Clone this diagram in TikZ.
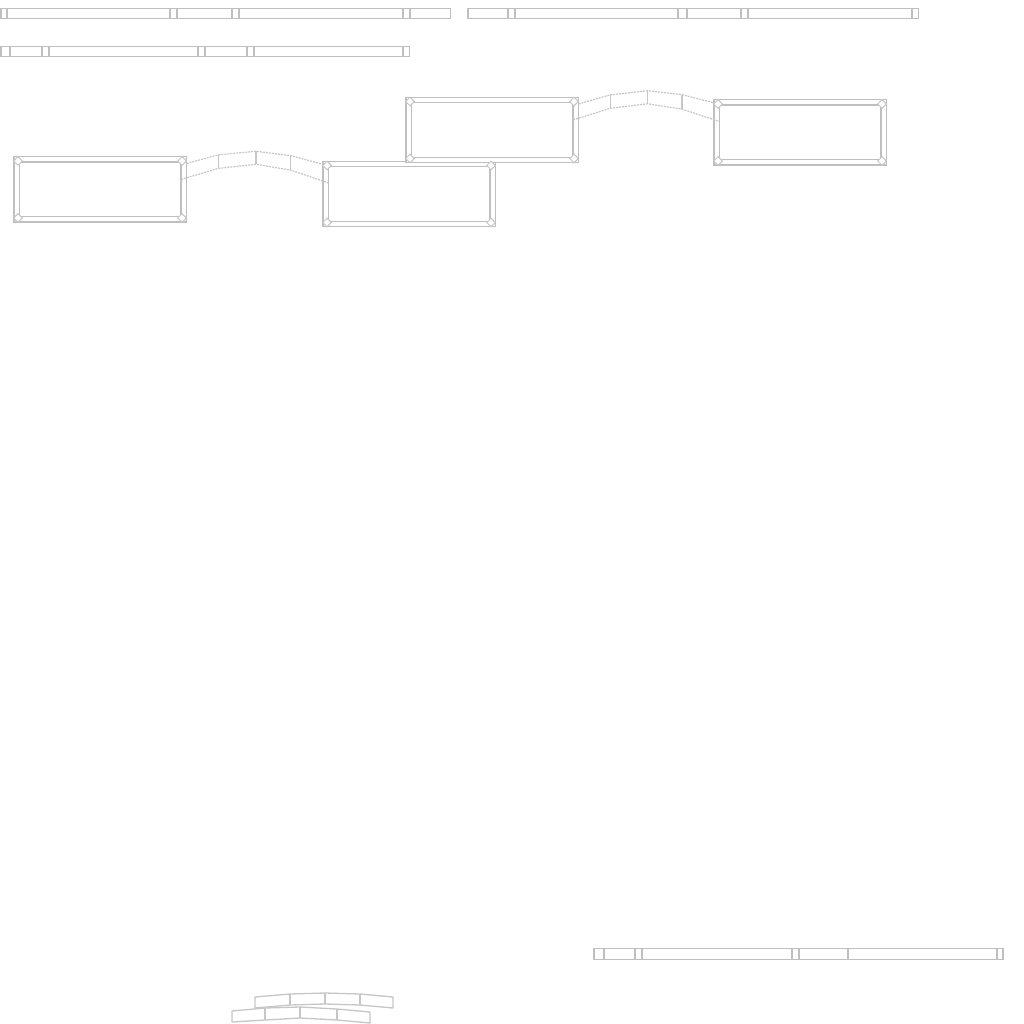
\documentclass[tikz,border=0pt]{standalone}
\usetikzlibrary{calc,shapes.geometric}
\newcommand\archlink[2]{%
  \coordinate (t0) at ($(#1.north east)+(3,4)$);
  \coordinate (t4) at ($(#2.north west)+(0,1)$);
  \coordinate (b0) at ($(#1.east)+(-2.5,-10)$);
  \coordinate (b4) at ($(#2.west)+(3,-11)$);
  \coordinate (t1) at ($(t0)!0.23!(t4)+(0,-9)$);
  \coordinate (t2) at ($(t0)!0.5!(t4)+(0,-13)$);
  \coordinate (t3) at ($(t0)!0.75!(t4)+(0,-9)$);
  \coordinate (b1) at ($(b0)!0.25!(b4)+(0,-12)$);
  \coordinate (b2) at ($(b0)!0.5!(b4)+(0,-17)$);
  \coordinate (b3) at ($(b0)!0.75!(b4)+(0,-12)$);
  \draw[link] (t0) -- (t1) -- (t2) -- (t3) -- (t4);
  \draw[link] (b0) -- (t1 |- b1) -- (t2 |- b2) -- (t3 |- b3) -- (b4);
  \foreach \i in {1,2,3} \draw[rung] (t\i) -- (t\i |- b\i);
}
\begin{document}
\begin{tikzpicture}[x=1pt, y=-1pt,
    frame/.style={draw=gray!50, double=white, double distance=4pt, line width=1.4pt, inner sep=0pt, outer sep=0pt, minimum width=167pt, minimum height=60pt},
    corner/.style={diamond, draw=gray!45, fill=white, line width=1pt, inner sep=0pt, minimum size=9pt},
    bar/.style={draw=gray!50, line width=1.5pt},
    divider/.style={draw=gray!50, line width=2pt},
    link/.style={draw=gray!45, line width=1.2pt, dash pattern=on 2pt off 1pt},
    rung/.style={draw=gray!45, line width=1.1pt},
    brick/.style={draw=gray!45, line width=1.3pt, line join=round}]
  \useasboundingbox (0,0) rectangle (1024,1024);
  \draw[bar] (1,8.5) rectangle (450.5,18.5);
  \foreach \x in {7,170,177,232,239,403,410} \draw[divider] (\x,9) -- (\x,18);
  \draw[bar] (468,8.5) rectangle (918.5,18.5);
  \foreach \x in {508,515,678,687,741,748,912} \draw[divider] (\x,9) -- (\x,18);
  \draw[bar] (1,46.5) rectangle (409.5,56.5);
  \foreach \x in {10,42,49,198,205,247,254,403} \draw[divider] (\x,47) -- (\x,56);
  \draw[bar] (594,948.5) rectangle (1003,959.5);
  \foreach \x in {604,635,642,792,799,848,997} \draw[divider] (\x,949) -- (\x,959);
  \node[frame] (fa) at (100,189.5) {};
  \node[frame] (fb) at (409,194) {};
  \node[frame] (fc) at (492,130) {};
  \node[frame] (fd) at (800,132.5) {};
  \archlink{fa}{fb}
  \archlink{fc}{fd}
  \foreach \f in {fa,fb,fc,fd}
    \foreach \c/\dx/\dy in {north west/1.5/1.5,north east/-1.5/1.5,south west/1.5/-1.5,south east/-1.5/-1.5}
      \node[corner] at ($(\f.\c)+(\dx,\dy)$) {};
  \draw[brick] (255,997) -- (290,994) -- (325,993) -- (360,994) -- (393,997) -- (393,1008) -- (360,1005) -- (325,1004) -- (290,1005) -- (255,1008) -- cycle;
  \foreach \x/\a/\b in {290/994/1005,325/993/1004,360/994/1005} \draw[brick] (\x,\a) -- (\x,\b);
  \draw[brick] (232,1011) -- (265,1008) -- (300,1007) -- (337,1009) -- (370,1012) -- (370,1023) -- (337,1020) -- (300,1018) -- (265,1020) -- (232,1022) -- cycle;
  \foreach \x/\a/\b in {265/1008/1020,300/1007/1018,337/1009/1020} \draw[brick] (\x,\a) -- (\x,\b);
\end{tikzpicture}
\end{document}
